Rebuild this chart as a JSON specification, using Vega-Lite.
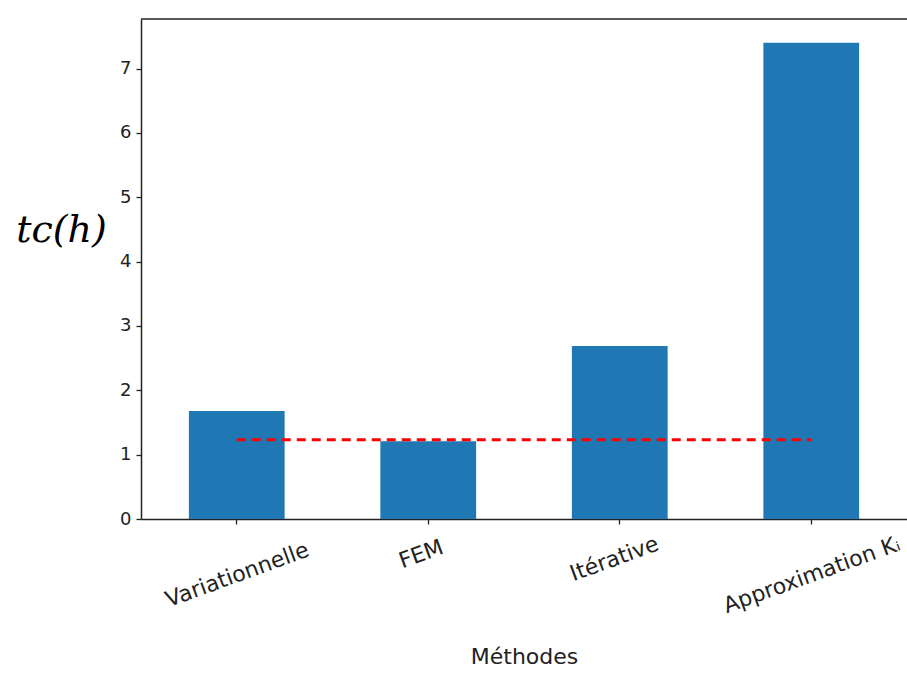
{
  "$schema": "https://vega.github.io/schema/vega-lite/v6.json",
  "autosize": "none",
  "width": 766,
  "height": 500,
  "padding": {"left": 141, "top": 19, "right": 0, "bottom": 160},
  "background": "white",
  "config": {"view": {"stroke": null}, "font": "DejaVu Sans"},
  "datasets": {
    "bars": [
      {"methode": "Variationnelle", "tc": 1.68},
      {"methode": "FEM", "tc": 1.21},
      {"methode": "Itérative", "tc": 2.69},
      {"methode": "Approximation Kᵢ", "tc": 7.40}
    ],
    "ref": [
      {"methode": "Variationnelle", "tc": 1.23},
      {"methode": "Approximation Kᵢ", "tc": 1.23}
    ]
  },
  "layer": [
    {
      "data": {"name": "bars"},
      "mark": {"type": "bar", "color": "#1f77b4"},
      "encoding": {
        "x": {
          "field": "methode", "type": "nominal",
          "sort": ["Variationnelle", "FEM", "Itérative", "Approximation Kᵢ"],
          "scale": {"domain": ["Variationnelle", "FEM", "Itérative", "Approximation Kᵢ"], "paddingInner": 0.5, "paddingOuter": 0.25},
          "axis": {
            "title": "Méthodes", "titleFontSize": 22, "titleFontWeight": "normal",
            "titleColor": "#222", "titleY": 137, "titleBaseline": "middle", "titleFont": "DejaVu Sans",
            "labelAngle": -20, "labelAlign": "center",
            "labelBaseline": {
              "condition": [
                {"test": "datum.value == 'FEM'", "value": "bottom"},
                {"test": "datum.value == 'Itérative'", "value": "alphabetic"}
              ],
              "value": "top"
            },
            "labelFontSize": 22, "labelColor": "#222", "labelPadding": 41,
            "labelOffset": -3, "labelLimit": 0, "labelOverlap": false,
            "domainColor": "#222", "domainWidth": 1.5,
            "tickColor": "#222", "tickSize": 5, "tickWidth": 1.3
          }
        },
        "y": {
          "field": "tc", "type": "quantitative",
          "scale": {"domain": [0, 7.77], "nice": false, "zero": true},
          "axis": {
            "title": "tc(h)", "titleFont": "DejaVu Serif", "titleFontStyle": "italic",
            "titleFontWeight": "normal", "titleFontSize": 38, "titleColor": "#000",
            "titleAngle": 0, "titleAlign": "center", "titleBaseline": "middle",
            "titleX": -80, "titleY": 211,
            "values": [0, 1, 2, 3, 4, 5, 6, 7], "format": "d", "grid": false,
            "labelFontSize": 18, "labelColor": "#222", "labelPadding": 5,
            "domainColor": "#222", "domainWidth": 1.5,
            "tickColor": "#222", "tickSize": 5, "tickWidth": 1.3
          }
        }
      }
    },
    {
      "data": {"name": "ref"},
      "mark": {"type": "line", "color": "#ff0000", "strokeWidth": 3, "strokeDash": [9, 6]},
      "encoding": {
        "x": {"field": "methode", "type": "nominal", "sort": ["Variationnelle", "FEM", "Itérative", "Approximation Kᵢ"]},
        "y": {"field": "tc", "type": "quantitative"}
      }
    },
    {
      "data": {"values": [{"top": 7.77}]},
      "mark": {"type": "rule", "color": "#222", "strokeWidth": 1.5},
      "encoding": {"y": {"field": "top", "type": "quantitative"}}
    }
  ]
}
